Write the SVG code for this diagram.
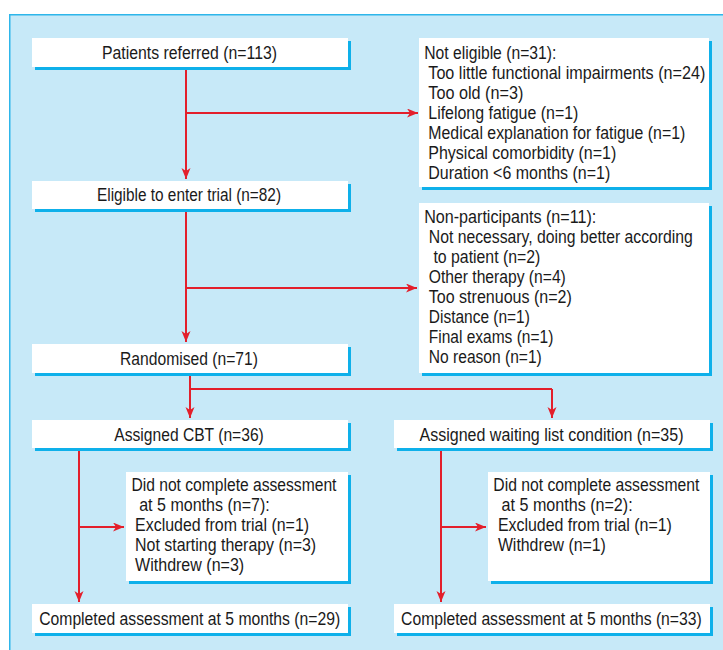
<svg xmlns="http://www.w3.org/2000/svg" width="723" height="650" viewBox="0 0 723 650">
<defs>
<style>
.sh{fill:#0EB0EA}
.bx{fill:#ffffff}
text{font-family:"Liberation Sans",Arial,sans-serif;font-size:18.5px;fill:#1a1a1a}
.cn{stroke:#E31F2B;stroke-width:2;fill:none}
</style>
<marker id="ah" markerUnits="userSpaceOnUse" markerWidth="12" markerHeight="10" refX="11" refY="4.5" orient="auto">
<path d="M0,0 L11,4.5 L0,9 L3,4.5 z" fill="#E31F2B"/>
</marker>
</defs>
<rect x="9" y="14" width="714" height="636" fill="#C7E9F8"/>
<path d="M9.75,650 V14.75 H723" fill="none" stroke="#2EB6EA" stroke-width="1.5"/>

<g id="connectors">
<path class="cn" d="M186,67 V179" marker-end="url(#ah)"/>
<path class="cn" d="M186,113 H418" marker-end="url(#ah)"/>
<path class="cn" d="M186,209 V342" marker-end="url(#ah)"/>
<path class="cn" d="M186,288 H417" marker-end="url(#ah)"/>
<path class="cn" d="M190,373 V389 H552"/>
<path class="cn" d="M190,389 V418" marker-end="url(#ah)"/>
<path class="cn" d="M552,389 V418" marker-end="url(#ah)"/>
<path class="cn" d="M79,448 V602" marker-end="url(#ah)"/>
<path class="cn" d="M79,527 H124" marker-end="url(#ah)"/>
<path class="cn" d="M441,448 V602" marker-end="url(#ah)"/>
<path class="cn" d="M441,527 H486" marker-end="url(#ah)"/>
</g>

<g id="patients-referred">
<rect class="sh" x="35" y="41" width="316" height="29"/>
<rect class="bx" x="32" y="38" width="316" height="29"/>
<text transform="translate(102,59) scale(0.88,1)" textLength="198.9" lengthAdjust="spacingAndGlyphs">Patients referred (n=113)</text>
</g>

<g id="not-eligible">
<rect class="sh" x="422" y="41" width="290" height="149"/>
<rect class="bx" x="419" y="38" width="290" height="149"/>
<text transform="translate(424.3,58.5) scale(0.88,1)" textLength="150" lengthAdjust="spacingAndGlyphs">Not eligible (n=31):</text>
<text transform="translate(428.3,78.5) scale(0.88,1)" textLength="314.8" lengthAdjust="spacingAndGlyphs">Too little functional impairments (n=24)</text>
<text transform="translate(428.3,98.5) scale(0.88,1)" textLength="108" lengthAdjust="spacingAndGlyphs">Too old (n=3)</text>
<text transform="translate(428.3,118.5) scale(0.88,1)" textLength="170.5" lengthAdjust="spacingAndGlyphs">Lifelong fatigue (n=1)</text>
<text transform="translate(428.3,138.5) scale(0.88,1)" textLength="292" lengthAdjust="spacingAndGlyphs">Medical explanation for fatigue (n=1)</text>
<text transform="translate(428.3,158.5) scale(0.88,1)" textLength="213.6" lengthAdjust="spacingAndGlyphs">Physical comorbidity (n=1)</text>
<text transform="translate(428.3,178.5) scale(0.88,1)" textLength="206.8" lengthAdjust="spacingAndGlyphs">Duration &lt;6 months (n=1)</text>
</g>

<g id="eligible">
<rect class="sh" x="35" y="184" width="316" height="28"/>
<rect class="bx" x="32" y="181" width="316" height="28"/>
<text transform="translate(97,201) scale(0.88,1)" textLength="209.1" lengthAdjust="spacingAndGlyphs">Eligible to enter trial (n=82)</text>
</g>

<g id="non-participants">
<rect class="sh" x="422" y="206" width="290" height="170"/>
<rect class="bx" x="419" y="203" width="290" height="170"/>
<text transform="translate(424.2,223) scale(0.88,1)" textLength="195.5" lengthAdjust="spacingAndGlyphs">Non-participants (n=11):</text>
<text transform="translate(428.8,243) scale(0.88,1)" textLength="300" lengthAdjust="spacingAndGlyphs">Not necessary, doing better according</text>
<text transform="translate(433.4,263) scale(0.88,1)" textLength="121.6" lengthAdjust="spacingAndGlyphs">to patient (n=2)</text>
<text transform="translate(428.8,283) scale(0.88,1)" textLength="155.7" lengthAdjust="spacingAndGlyphs">Other therapy (n=4)</text>
<text transform="translate(428.8,303) scale(0.88,1)" textLength="162.5" lengthAdjust="spacingAndGlyphs">Too strenuous (n=2)</text>
<text transform="translate(428.8,323) scale(0.88,1)" textLength="114.8" lengthAdjust="spacingAndGlyphs">Distance (n=1)</text>
<text transform="translate(428.8,343) scale(0.88,1)" textLength="141.5" lengthAdjust="spacingAndGlyphs">Final exams (n=1)</text>
<text transform="translate(428.8,363) scale(0.88,1)" textLength="128.4" lengthAdjust="spacingAndGlyphs">No reason (n=1)</text>
</g>

<g id="randomised">
<rect class="sh" x="35" y="347" width="316" height="29"/>
<rect class="bx" x="32" y="344" width="316" height="29"/>
<text transform="translate(120,365) scale(0.88,1)" textLength="156.8" lengthAdjust="spacingAndGlyphs">Randomised (n=71)</text>
</g>

<g id="assigned-cbt">
<rect class="sh" x="35" y="423" width="316" height="28"/>
<rect class="bx" x="32" y="420" width="316" height="28"/>
<text transform="translate(114.3,440.5) scale(0.88,1)" textLength="169.9" lengthAdjust="spacingAndGlyphs">Assigned CBT (n=36)</text>
</g>

<g id="assigned-waiting">
<rect class="sh" x="397" y="423" width="316" height="28"/>
<rect class="bx" x="394" y="420" width="316" height="28"/>
<text transform="translate(419.5,440.5) scale(0.88,1)" textLength="300" lengthAdjust="spacingAndGlyphs">Assigned waiting list condition (n=35)</text>
</g>

<g id="cbt-not-complete">
<rect class="sh" x="129" y="475" width="222" height="109"/>
<rect class="bx" x="126" y="472" width="222" height="109"/>
<text transform="translate(131.4,491) scale(0.88,1)" textLength="233" lengthAdjust="spacingAndGlyphs">Did not complete assessment</text>
<text transform="translate(139.2,511) scale(0.88,1)" textLength="148.3" lengthAdjust="spacingAndGlyphs">at 5 months (n=7):</text>
<text transform="translate(135.1,531) scale(0.88,1)" textLength="197.7" lengthAdjust="spacingAndGlyphs">Excluded from trial (n=1)</text>
<text transform="translate(135.1,551) scale(0.88,1)" textLength="205.7" lengthAdjust="spacingAndGlyphs">Not starting therapy (n=3)</text>
<text transform="translate(135.1,571) scale(0.88,1)" textLength="123.9" lengthAdjust="spacingAndGlyphs">Withdrew (n=3)</text>
</g>

<g id="wait-not-complete">
<rect class="sh" x="491" y="475" width="222" height="109"/>
<rect class="bx" x="488" y="472" width="222" height="109"/>
<text transform="translate(493.3,491) scale(0.88,1)" textLength="234.1" lengthAdjust="spacingAndGlyphs">Did not complete assessment</text>
<text transform="translate(501.6,511) scale(0.88,1)" textLength="148.9" lengthAdjust="spacingAndGlyphs">at 5 months (n=2):</text>
<text transform="translate(497.9,531) scale(0.88,1)" textLength="197.7" lengthAdjust="spacingAndGlyphs">Excluded from trial (n=1)</text>
<text transform="translate(497.9,551) scale(0.88,1)" textLength="122.7" lengthAdjust="spacingAndGlyphs">Withdrew (n=1)</text>
</g>

<g id="cbt-completed">
<rect class="sh" x="35" y="607" width="316" height="29"/>
<rect class="bx" x="32" y="604" width="316" height="29"/>
<text transform="translate(39.2,624.5) scale(0.88,1)" textLength="342" lengthAdjust="spacingAndGlyphs">Completed assessment at 5 months (n=29)</text>
</g>

<g id="wait-completed">
<rect class="sh" x="397" y="607" width="316" height="29"/>
<rect class="bx" x="394" y="604" width="316" height="29"/>
<text transform="translate(401.1,624.5) scale(0.88,1)" textLength="341.6" lengthAdjust="spacingAndGlyphs">Completed assessment at 5 months (n=33)</text>
</g>
</svg>
